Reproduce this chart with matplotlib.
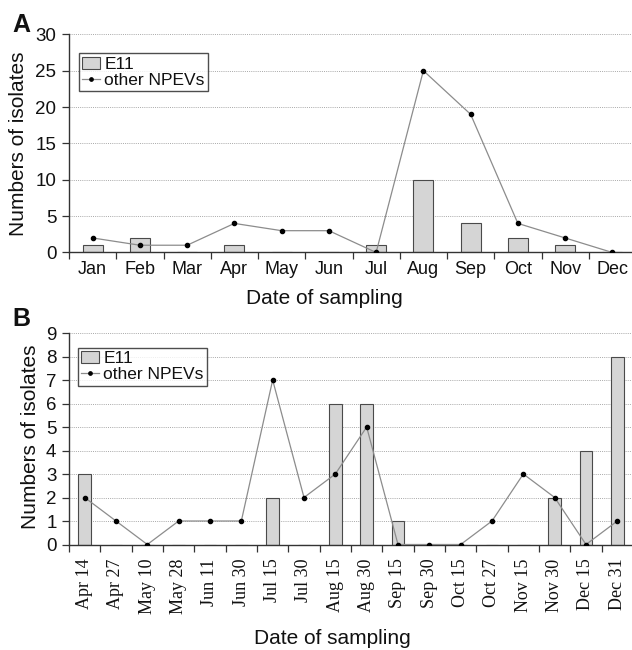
import matplotlib
matplotlib.use("Agg")
import matplotlib.pyplot as plt
import numpy as np

plt.rcParams['font.family'] = ['Liberation Sans', 'DejaVu Sans']

# ---- data ----
months = ["Jan", "Feb", "Mar", "Apr", "May", "Jun", "Jul", "Aug", "Sep", "Oct", "Nov", "Dec"]
e11_a = [1, 2, 0, 1, 0, 0, 1, 10, 4, 2, 1, 0]
npev_a = [2, 1, 1, 4, 3, 3, 0, 25, 19, 4, 2, 0]

dates = ["Apr 14", "Apr 27", "May 10", "May 28", "Jun 11", "Jun 30", "Jul 15", "Jul 30",
         "Aug 15", "Aug 30", "Sep 15", "Sep 30", "Oct 15", "Oct 27", "Nov 15", "Nov 30",
         "Dec 15", "Dec 31"]
e11_b = [3, 0, 0, 0, 0, 0, 2, 0, 6, 6, 1, 0, 0, 0, 0, 2, 4, 8]
npev_b = [2, 1, 0, 1, 1, 1, 7, 2, 3, 5, 0, 0, 0, 1, 3, 2, 0, 1]

yticks_a = [0, 5, 10, 15, 20, 25, 30]
yticks_b = [0, 1, 2, 3, 4, 5, 6, 7, 8, 9]

W, H = 632, 650
fig = plt.figure(figsize=(W / 100, H / 100), dpi=100)


def px_axes(left, right, top, bottom):
    return fig.add_axes([left / W, 1 - bottom / H, (right - left) / W, (bottom - top) / H])


BAR_FC = '#d5d5d5'
BAR_EC = '#4a4a4a'
LINE_C = '#8c8c8c'
GRID_C = '#a8a8a8'
TXT = '#111111'


def style(ax, n, ymax, yt):
    ax.set_xlim(-0.5, n - 0.5)
    ax.set_ylim(0, ymax)
    ax.set_yticks(yt)
    ax.yaxis.grid(True, color=GRID_C, linestyle=(0, (1, 1.2)), linewidth=0.7)
    ax.set_axisbelow(True)
    for s in ['top', 'right']:
        ax.spines[s].set_visible(False)
    for s in ['left', 'bottom']:
        ax.spines[s].set_color('#333333')
        ax.spines[s].set_linewidth(1.0)
    ax.set_xticks(np.arange(n))
    ax.set_xticks(np.arange(n + 1) - 0.5, minor=True)
    ax.tick_params(axis='x', which='major', length=0, labelcolor=TXT)
    ax.tick_params(axis='x', which='minor', length=5, width=0.9, color='#333333', direction='out')
    ax.tick_params(axis='y', length=5, width=0.9, color='#333333', direction='out', pad=4,
                   labelsize=13.5, labelcolor=TXT)


def add_legend(ax, bars, line, anchor):
    leg = ax.legend([bars, line], ['E11', 'other NPEVs'], loc='upper left',
                    bbox_to_anchor=anchor, borderaxespad=0,
                    fontsize=12.5, frameon=True, fancybox=False, handlelength=1.0,
                    handletextpad=0.25, borderpad=0.2, labelspacing=0.05, markerscale=0.8)
    leg.get_frame().set_edgecolor('#222222')
    leg.get_frame().set_linewidth(1.0)
    for t in leg.get_texts():
        t.set_color(TXT)
    return leg


# ---- Panel A ----
axA = px_axes(69, 636, 34.3, 252.5)
xa = np.arange(len(months))
barsA = axA.bar(xa, e11_a, width=0.42, color=BAR_FC, edgecolor=BAR_EC, linewidth=0.8, zorder=2)
lineA, = axA.plot(xa, npev_a, color=LINE_C, linewidth=0.9, marker='o', markersize=3,
                  markerfacecolor='black', markeredgecolor='black', zorder=3)
style(axA, len(months), 30, yticks_a)
axA.set_xticklabels(months)
axA.tick_params(axis='x', which='major', labelsize=13, pad=6)
add_legend(axA, barsA, lineA, (0.0176, 0.914))

# ---- Panel B ----
axB = px_axes(69, 633, 333, 544.5)
xb = np.arange(len(dates))
barsB = axB.bar(xb, e11_b, width=0.4, color=BAR_FC, edgecolor=BAR_EC, linewidth=0.8, zorder=2)
lineB, = axB.plot(xb, npev_b, color=LINE_C, linewidth=0.9, marker='o', markersize=3,
                  markerfacecolor='black', markeredgecolor='black', zorder=3)
style(axB, len(dates), 9, yticks_b)
axB.set_xticklabels(dates, rotation=90, family=['Liberation Serif', 'DejaVu Serif'])
axB.tick_params(axis='x', which='major', labelsize=13, pad=10)
add_legend(axB, barsB, lineB, (0.016, 0.93))

# ---- labels ----
def ftext(x, y, s, **kw):
    fig.text(x / W, 1 - y / H, s, color=TXT, **kw)

ftext(19, 143.5, "Numbers of isolates", rotation=90, ha='center', va='center', fontsize=15)
ftext(30, 436.5, "Numbers of isolates", rotation=90, ha='center', va='center', fontsize=15)
ftext(324, 299, "Date of sampling", ha='center', va='center', fontsize=15)
ftext(332, 639, "Date of sampling", ha='center', va='center', fontsize=15)
ftext(21, 25.5, "A", ha='center', va='center', fontsize=18, fontweight='bold')
ftext(21.5, 318.5, "B", ha='center', va='center', fontsize=18, fontweight='bold')

fig.savefig("out.png", dpi=100)
